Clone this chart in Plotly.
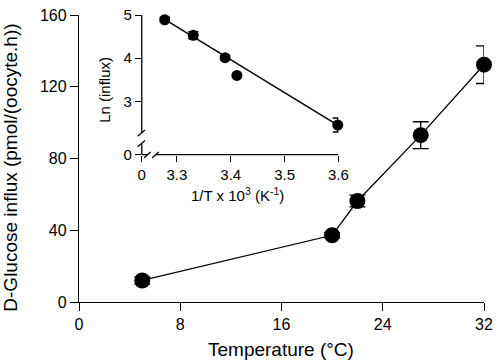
import plotly.graph_objects as go

# Main panel data
temperature = [5, 20, 22, 27, 32]
influx = [12, 37.2, 56.3, 93, 132.3]
influx_err = [2, 1.5, 3.3, 7.5, 10.5]
main_xticks = [0, 8, 16, 24, 32]
main_yticks = [0, 40, 80, 120, 160]

# Inset (Arrhenius) data
inv_T = [3.2775, 3.3305, 3.3896, 3.4115, 3.5987]
ln_influx = [4.89, 4.53, 4.01, 3.60, 2.45]
ln_err = [0.05, 0.08, 0.05, 0.03, 0.16]
fit_x = [3.2775, 3.5987]
fit_y = [4.90, 2.45]
inset_xtick_vals = [3.2349, 3.3, 3.4, 3.5, 3.6]
inset_xtick_text = ["0", "3.3", "3.4", "3.5", "3.6"]
inset_ytick_vals = [1.764, 3, 4, 5]
inset_ytick_text = ["0", "3", "4", "5"]

FONT = "Liberation Sans, Arial, sans-serif"

fig = go.Figure()

fig.add_trace(go.Scatter(
    x=temperature, y=influx, mode="lines+markers",
    line=dict(color="black", width=1.3),
    marker=dict(color="black", size=16),
    error_y=dict(type="data", array=influx_err, color="black", thickness=1.3, width=8),
    cliponaxis=False, showlegend=False, xaxis="x", yaxis="y"))

fig.add_trace(go.Scatter(
    x=fit_x, y=fit_y, mode="lines",
    line=dict(color="black", width=1.5),
    cliponaxis=False, showlegend=False, xaxis="x2", yaxis="y2"))

fig.add_trace(go.Scatter(
    x=inv_T, y=ln_influx, mode="markers",
    marker=dict(color="black", size=11),
    error_y=dict(type="data", array=ln_err, color="black", thickness=1.5, width=5),
    cliponaxis=False, showlegend=False, xaxis="x2", yaxis="y2"))

axis_common = dict(showgrid=False, zeroline=False, ticks="outside",
                   tickcolor="black", color="black", ticklabeloverflow="allow")

fig.update_layout(
    width=500, height=364,
    margin=dict(l=79, r=10, t=6, b=62),
    paper_bgcolor="white", plot_bgcolor="rgba(0,0,0,0)",
    font=dict(family=FONT, color="black"),
    xaxis=dict(**axis_common, range=[0, 32], tickvals=main_xticks,
               showline=True, linecolor="black", linewidth=1.3,
               ticklen=8, tickwidth=1.3, tickfont=dict(size=16),
               domain=[0, 1], anchor="y"),
    yaxis=dict(**axis_common, range=[0, 160], tickvals=main_yticks,
               showline=True, linecolor="black", linewidth=1.3,
               ticklen=8, tickwidth=1.3, tickfont=dict(size=16),
               domain=[0, 1], anchor="x"),
    xaxis2=dict(**axis_common, range=[3.2349, 3.6], tickvals=inset_xtick_vals,
                ticktext=inset_xtick_text, showline=False,
                ticklen=6, tickwidth=1.3, tickfont=dict(size=15),
                domain=[0.155, 0.6406], anchor="y2"),
    yaxis2=dict(**axis_common, range=[1.764, 5.0], tickvals=inset_ytick_vals,
                ticktext=inset_ytick_text, showline=False,
                ticklen=6, tickwidth=1.3, tickfont=dict(size=15),
                domain=[0.5135, 1.0], anchor="x2"),
)

# Inset axis lines with breaks
LW = 1.3
shapes = [
    dict(type="line", xref="x2 domain", yref="y2", x0=0, x1=0, y0=5.0, y1=2.27),
    dict(type="line", xref="x2 domain", yref="y2", x0=0, x1=0, y0=2.011, y1=1.764),
    dict(type="line", xref="x2 domain", yref="y2", x0=-0.021, x1=0.0165, y0=2.191, y1=2.337),
    dict(type="line", xref="x2 domain", yref="y2", x0=-0.021, x1=0.0165, y0=1.944, y1=2.090),
    dict(type="line", xref="x2", yref="y2 domain", x0=3.2349, x1=3.2452, y0=0, y1=0),
    dict(type="line", xref="x2", yref="y2 domain", x0=3.2605, x1=3.6, y0=0, y1=0),
    dict(type="line", xref="x2", yref="y2 domain", x0=3.2391, x1=3.2514, y0=-0.023, y1=0.019),
    dict(type="line", xref="x2", yref="y2 domain", x0=3.2543, x1=3.2665, y0=-0.023, y1=0.019),
]
for s in shapes:
    s["line"] = dict(color="black", width=LW)
    s["layer"] = "above"
fig.update_layout(shapes=shapes)

fig.add_annotation(text="Temperature (°C)", xref="paper", yref="paper",
                   x=0.4988, y=-0.1655, xanchor="center", yanchor="middle",
                   showarrow=False, font=dict(size=19))
fig.add_annotation(text="D-Glucose influx (pmol/(oocyte.h))", xref="paper", yref="paper",
                   x=-0.1679, y=0.468, xanchor="center", yanchor="middle",
                   textangle=-90, showarrow=False, font=dict(size=19))
fig.add_annotation(text="1/T x 10<sup>3</sup> (K<sup>-1</sup>)", xref="paper", yref="paper",
                   x=0.3917, y=0.375, xanchor="center", yanchor="middle",
                   showarrow=False, font=dict(size=15))
fig.add_annotation(text="Ln (influx)", xref="paper", yref="paper",
                   x=0.0633, y=0.738, xanchor="center", yanchor="middle",
                   textangle=-90, showarrow=False, font=dict(size=15))

fig.write_html("out.html", config={"displayModeBar": False},
               post_script="document.body.style.margin='0';")
